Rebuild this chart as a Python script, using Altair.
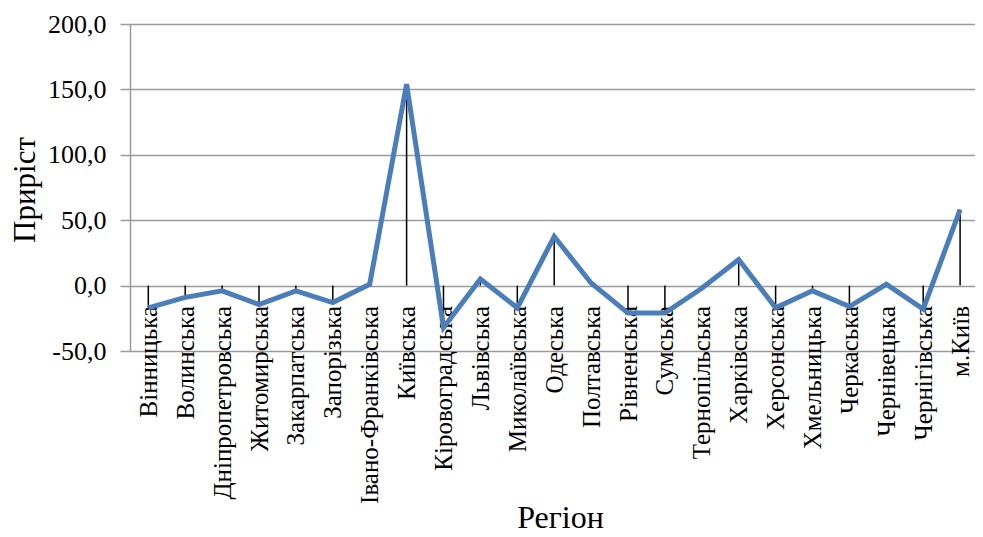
import altair as alt
import pandas as pd

regions = ["Вінницька", "Волинська", "Дніпропетровська", "Житомирська", "Закарпатська",
           "Запорізька", "Івано-Франківська", "Київська", "Кіровоградська", "Львівська",
           "Миколаївська", "Одеська", "Полтавська", "Рівненська", "Сумська",
           "Тернопільська", "Харківська", "Херсонська", "Хмельницька", "Черкаська",
           "Чернівецька", "Чернігівська", "м.Київ"]
growth = [-17, -9, -4, -14.5, -4, -13, 1, 154, -32, 5, -17, 37.5, 2, -21, -21,
          -2, 20, -17, -4, -16, 1, -18, 58]
y_ticks = [-50, 0, 50, 100, 150, 200]

positions = list(range(len(regions)))
df = pd.DataFrame({"idx": positions, "region": regions, "value": growth,
                   "zero": [0] * len(regions)})

FONT = "'Liberation Serif', 'Times New Roman', 'DejaVu Serif', serif"
W = 845
H = 327
STEP = 36.9    # category spacing in px
FIRST = 18.3   # offset of the first category from the plot's left edge
name_array = "[" + ",".join("'" + r + "'" for r in regions) + "]"

d0 = -FIRST / STEP
xscale = alt.Scale(domain=[d0, d0 + W / STEP], nice=False, zero=False)
yscale = alt.Scale(domain=[-50, 200], nice=False)

x_enc = alt.X(
    "idx:Q", scale=xscale,
    axis=alt.Axis(
        values=positions, labelExpr=name_array + "[datum.value]",
        title="Регіон", titleFont=FONT, titleFontSize=32, titleFontWeight="normal",
        titleColor="#000000", titleBaseline="alphabetic", titleY=242, titleX=430,
        labelAngle=-90, labelFont=FONT, labelFontSize=25, labelColor="#000000",
        labelPadding=20, labelOverlap=False, labelLimit=0, labelFlush=False,
        domain=False, ticks=False, grid=False, offset=-65.5,
    ),
)

y_enc = alt.Y(
    "value:Q", scale=yscale,
    axis=alt.Axis(
        values=y_ticks, title="Приріст", titleFont=FONT, titleFontSize=31,
        titleFontWeight="normal", titleColor="#000000", titleX=-105, titleY=H / 2 + 2,
        titleBaseline="middle", titleAngle=-90,
        labelFont=FONT, labelFontSize=26, labelColor="#000000", labelPadding=14,
        labelExpr="replace(replace(format(datum.value, '.1f'), '.', ','), '\u2212', '-')",
        tickSize=10, tickColor="#9a9a9a", tickWidth=1.5,
        domainColor="#9a9a9a", domainWidth=1.5,
        grid=True, gridColor="#9a9a9a", gridWidth=1.5,
    ),
)

drops = alt.Chart(df).mark_rule(color="#000000", strokeWidth=1.5).encode(
    x=x_enc, y=alt.Y("zero:Q", scale=yscale), y2="value:Q"
)

line = alt.Chart(df).mark_line(color="#4a7ebb", strokeWidth=5, strokeJoin="miter").encode(
    x=x_enc, y=y_enc, order="idx:Q"
)

chart = alt.layer(drops, line).properties(
    width=W, height=H,
    autosize=alt.AutoSizeParams(type="none"),
    padding={"left": 122, "top": 16, "right": 0, "bottom": 186},
).configure_view(stroke=None).configure(background="#ffffff")

chart.save("out.html", embed_options={"renderer": "svg", "actions": False})
